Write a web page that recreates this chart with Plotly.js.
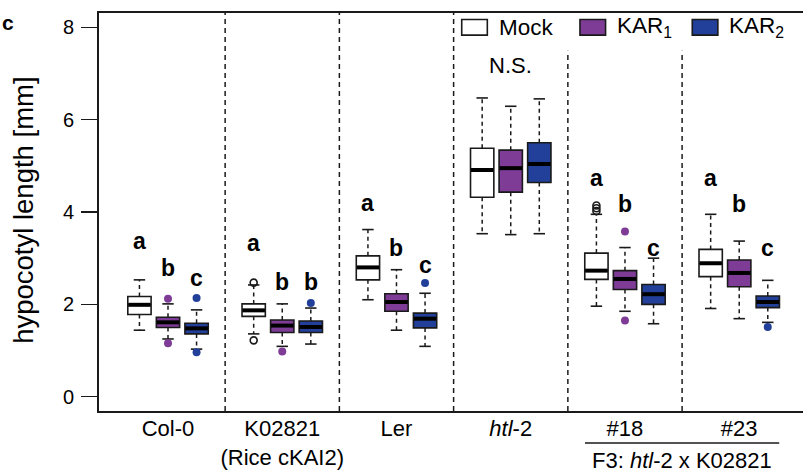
<!DOCTYPE html>
<html>
<head>
<meta charset="utf-8">
<script src="https://cdn.plot.ly/plotly-3.0.1.min.js"></script>
<style>
html,body{margin:0;padding:0;overflow:hidden;background:#fff;}
#chart{width:806px;height:473px;}
</style>
</head>
<body>
<div id="chart"></div>
<script>
// ---- data ----
var groups = ['Col-0', 'K02821<br>(Rice cKAI2)', 'Ler', '<i>htl</i>-2', '#18', '#23'];
var treatments = ['Mock', 'KAR<sub>1</sub>', 'KAR<sub>2</sub>'];

var mockHi  = [2.53, 2.42, 3.62, 6.47, 3.95, 3.95];
var mockQ3  = [2.17, 2.01, 3.05, 5.38, 3.11, 3.19];
var mockMed = [1.99, 1.87, 2.80, 4.91, 2.73, 2.89];
var mockQ1  = [1.78, 1.74, 2.53, 4.32, 2.54, 2.60];
var mockLo  = [1.44, 1.36, 2.10, 3.53, 1.96, 1.91];

var kar1Hi  = [2.01, 2.01, 2.75, 6.29, 3.23, 3.37];
var kar1Q3  = [1.72, 1.66, 2.23, 5.34, 2.73, 2.96];
var kar1Med = [1.61, 1.54, 2.05, 4.95, 2.55, 2.68];
var kar1Q1  = [1.50, 1.39, 1.85, 4.43, 2.32, 2.38];
var kar1Lo  = [1.25, 1.09, 1.44, 3.51, 1.85, 1.69];

var kar2Hi  = [1.88, 1.92, 2.24, 6.45, 3.00, 2.52];
var kar2Q3  = [1.59, 1.64, 1.81, 5.50, 2.43, 2.18];
var kar2Med = [1.48, 1.51, 1.69, 5.04, 2.22, 2.05];
var kar2Q1  = [1.36, 1.39, 1.49, 4.64, 2.00, 1.93];
var kar2Lo  = [1.03, 1.14, 1.09, 3.53, 1.58, 1.61];

var mockOutGroup = [1, 1, 4, 4, 4];
var mockOutVal   = [2.47, 1.22, 4.02, 4.08, 4.14];
var kar1OutGroup = [0, 0, 1, 4, 4];
var kar1OutVal   = [2.12, 1.16, 0.98, 3.58, 1.65];
var kar2OutGroup = [0, 0, 1, 2, 5];
var kar2OutVal   = [2.14, 0.96, 2.03, 2.46, 1.51];

var letterGroup = [0, 0, 0, 1, 1, 1, 2, 2, 2, 4, 4, 4, 5, 5, 5];
var letterTreat = [0, 1, 2, 0, 1, 2, 0, 1, 2, 0, 1, 2, 0, 1, 2];
var letterText  = ['a','b','c','a','b','b','a','b','c','a','b','c','a','b','c'];
var letterY     = [3.37, 2.78, 2.56, 3.32, 2.48, 2.48, 4.19, 3.23, 2.85, 4.73, 4.17, 3.21, 4.73, 4.17, 3.21];
var nsGroup = 3, nsText = 'N.S.', nsY = 7.18;

// ---- styling ----
var FONT = 'Liberation Sans, Arial, Helvetica, sans-serif';
var INK = '#1a1a1a';
var fills = ['#ffffff', '#7E3C97', '#22409A'];
var offsets = [-0.25, 0, 0.25];
var BOXW = 0.204, CAPW = 0.1;

var stats = [
  {hi: mockHi, q3: mockQ3, med: mockMed, q1: mockQ1, lo: mockLo, og: mockOutGroup, ov: mockOutVal},
  {hi: kar1Hi, q3: kar1Q3, med: kar1Med, q1: kar1Q1, lo: kar1Lo, og: kar1OutGroup, ov: kar1OutVal},
  {hi: kar2Hi, q3: kar2Q3, med: kar2Med, q1: kar2Q1, lo: kar2Lo, og: kar2OutGroup, ov: kar2OutVal}
];

var traces = [];
stats.forEach(function (s, t) {
  var pos = groups.map(function (g, i) { return i + offsets[t]; });
  var wx = [], wy = [], cx = [], cy = [], mx = [], my = [];
  pos.forEach(function (p, i) {
    wx.push(p, p, null, p, p, null);
    wy.push(s.q3[i], s.hi[i], null, s.q1[i], s.lo[i], null);
    cx.push(p - CAPW / 2, p + CAPW / 2, null, p - CAPW / 2, p + CAPW / 2, null);
    cy.push(s.hi[i], s.hi[i], null, s.lo[i], s.lo[i], null);
    mx.push(p - BOXW / 2 + 0.004, p + BOXW / 2 - 0.004, null);
    my.push(s.med[i], s.med[i], null);
  });
  traces.push({type: 'scatter', mode: 'lines', x: wx, y: wy, hoverinfo: 'skip', showlegend: false,
    line: {color: INK, width: 1.5, dash: '4px,3.5px'}});
  traces.push({type: 'scatter', mode: 'lines', x: cx, y: cy, hoverinfo: 'skip', showlegend: false,
    line: {color: INK, width: 1.6}});
  traces.push({type: 'box', x: pos, q1: s.q1, median: s.med, q3: s.q3,
    lowerfence: s.q1, upperfence: s.q3, width: BOXW, boxpoints: false,
    fillcolor: fills[t], line: {color: INK, width: 1.6}, whiskerwidth: 0,
    hoverinfo: 'skip', showlegend: false, name: treatments[t]});
  traces.push({type: 'scatter', mode: 'lines', x: mx, y: my, hoverinfo: 'skip', showlegend: false,
    line: {color: '#000', width: 4}});
  traces.push({type: 'scatter', mode: 'markers',
    x: s.og.map(function (g) { return g + offsets[t]; }), y: s.ov,
    hoverinfo: 'skip', showlegend: false,
    marker: t === 0 ? {symbol: 'circle-open', size: 7, color: INK, line: {width: 1.6, color: INK}}
                    : {symbol: 'circle', size: 8, color: fills[t], line: {width: 0}}});
});

var annotations = [];
letterText.forEach(function (txt, k) {
  annotations.push({x: letterGroup[k] + offsets[letterTreat[k]], y: letterY[k], xref: 'x', yref: 'y',
    text: '<b>' + txt + '</b>', showarrow: false, xanchor: 'center', yanchor: 'middle',
    font: {family: FONT, size: 23, color: '#000'}});
});
annotations.push({x: nsGroup, y: nsY, xref: 'x', yref: 'y', text: nsText, showarrow: false,
  xanchor: 'center', yanchor: 'middle', font: {family: FONT, size: 22, color: '#000'}});

// y title
annotations.push({x: -0.108, y: 0.505, xref: 'paper', yref: 'paper', text: 'hypocotyl length [mm]',
  textangle: -90, showarrow: false, xanchor: 'center', yanchor: 'middle',
  font: {family: FONT, size: 27.5, color: '#000'}});
// panel letter
annotations.push({x: -0.129, y: 0.975, xref: 'paper', yref: 'paper', text: '<b>c</b>', showarrow: false,
  xanchor: 'center', yanchor: 'middle', font: {family: FONT, size: 21, color: '#000'}});
// F3 label
annotations.push({x: 4.5, y: -0.124, xref: 'x', yref: 'paper', text: 'F3: <i>htl</i>-2 x K02821',
  showarrow: false, xanchor: 'center', yanchor: 'middle', font: {family: FONT, size: 22, color: '#000'}});

// legend (drawn)
var legX = [2.571, 3.606, 4.589];
var shapes = [];
treatments.forEach(function (name, t) {
  shapes.push({type: 'rect', xref: 'x', yref: 'y', x0: legX[t], x1: legX[t] + 0.224, y0: 7.83, y1: 8.17,
    fillcolor: fills[t], line: {color: INK, width: 1.6}});
  annotations.push({x: legX[t] + 0.306, y: 8.0, xref: 'x', yref: 'y', text: name, showarrow: false,
    xanchor: 'left', yanchor: 'middle', font: {family: FONT, size: 22.5, color: '#000'}});
});

// separators
[0.5, 1.5, 2.5].forEach(function (x) {
  shapes.push({type: 'line', xref: 'x', yref: 'paper', x0: x, x1: x, y0: 0, y1: 1,
    line: {color: INK, width: 1.5, dash: '5px,4px'}});
});
[3.5, 4.5].forEach(function (x) {
  shapes.push({type: 'line', xref: 'x', yref: 'y', x0: x, x1: x, y0: -0.31, y1: 7.49,
    line: {color: INK, width: 1.5, dash: '5px,4px'}});
});
// bracket under #18/#23
shapes.push({type: 'line', xref: 'x', yref: 'paper', x0: 3.65, x1: 5.35, y0: -0.0805, y1: -0.0805,
  line: {color: INK, width: 1.6}});

var layout = {
  width: 806, height: 473,
  margin: {l: 99, r: 2, t: 13, b: 62},
  paper_bgcolor: '#fff', plot_bgcolor: '#fff',
  showlegend: false, boxmode: 'overlay',
  font: {family: FONT, color: '#000'},
  xaxis: {range: [-0.604, 5.567], tickvals: [0, 1, 2, 3, 4, 5], ticktext: groups,
    showline: true, mirror: true, linecolor: INK, linewidth: 2, ticks: '', showgrid: false, zeroline: false,
    tickfont: {family: FONT, size: 22, color: '#000'}, ticklabelstandoff: -3},
  yaxis: {range: [-0.31, 8.31], tickvals: [0, 2, 4, 6, 8], ticks: 'outside', ticklen: 16, tickwidth: 1.5,
    tickcolor: INK, showline: true, mirror: true, linecolor: INK, linewidth: 2, showgrid: false, zeroline: false,
    tickfont: {family: FONT, size: 20, color: '#000'}, ticklabelstandoff: 3},
  shapes: shapes,
  annotations: annotations
};

Plotly.newPlot('chart', traces, layout, {displayModeBar: false, staticPlot: true});
</script>
</body>
</html>
